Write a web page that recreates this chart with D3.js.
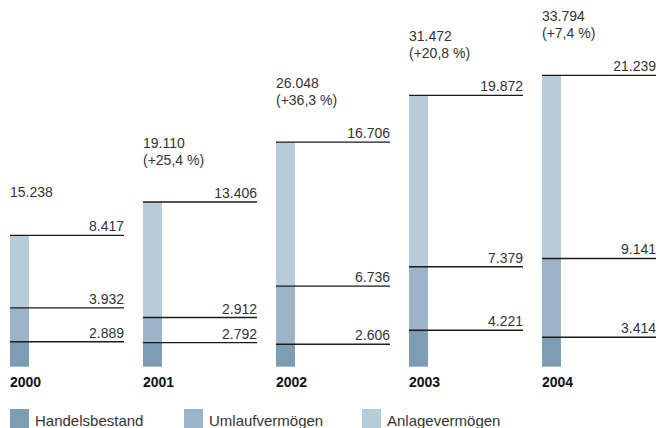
<!DOCTYPE html>
<html>
<head>
<meta charset="utf-8">
<script src="https://cdn.jsdelivr.net/npm/d3@7"></script>
<style>
  html, body { margin: 0; padding: 0; background: #fff; }
  svg { display: block; font-family: "Liberation Sans", Arial, sans-serif; }
</style>
</head>
<body>
<svg id="chart" width="659" height="428"></svg>
<script>
const years = ["2000", "2001", "2002", "2003", "2004"];
const handelsbestand = [2.889, 2.792, 2.606, 4.221, 3.414];
const umlaufvermoegen = [3.932, 2.912, 6.736, 7.379, 9.141];
const anlagevermoegen = [8.417, 13.406, 16.706, 19.872, 21.239];
const totals = [15.238, 19.110, 26.048, 31.472, 33.794];
const growthLabels = ["", "(+25,4 %)", "(+36,3 %)", "(+20,8 %)", "(+7,4 %)"];
const seriesNames = ["Handelsbestand", "Umlaufvermögen", "Anlagevermögen"];
const colors = ["#7d9db5", "#9cb3c8", "#b8cbd8"];

const svg = d3.select("#chart");
const baseY = 366.7;
const pxPerUnit = 8.62;
const y = d3.scaleLinear().domain([0, 34]).range([baseY, baseY - 34 * pxPerUnit]);
const x = d3.scalePoint().domain(years).range([10, 542]);
const barW = 19;
const lineLen = 114;

const fmt = v => d3.format(".3f")(v);
const seriesData = [handelsbestand, umlaufvermoegen, anlagevermoegen];

const stacked = years.map((yr, i) => {
  let cum = 0;
  return seriesData.map((s, k) => {
    const y0 = cum; cum += s[i];
    return { year: yr, k, y0, y1: cum, v: s[i] };
  });
});

const g = svg.append("g");

stacked.forEach(segs => {
  const gx = x(segs[0].year);
  segs.forEach(d => {
    g.append("rect")
      .attr("x", gx).attr("width", barW)
      .attr("y", y(d.y1)).attr("height", y(d.y0) - y(d.y1))
      .attr("fill", colors[d.k]);
  });
  segs.forEach(d => {
    g.append("line")
      .attr("x1", gx).attr("x2", gx + lineLen)
      .attr("y1", y(d.y1)).attr("y2", y(d.y1))
      .attr("stroke", "#1a1a1a").attr("stroke-width", 1.4);
    g.append("text")
      .attr("x", gx + lineLen).attr("y", y(d.y1) - 4)
      .attr("text-anchor", "end")
      .attr("font-size", 14).attr("fill", "#333")
      .text(fmt(d.v));
  });
});

years.forEach((yr, i) => {
  const gx = x(yr);
  const topY = y(totals[i]);
  const hasGrowth = growthLabels[i] !== "";
  const t = g.append("text")
    .attr("x", gx).attr("font-size", 14).attr("fill", "#333");
  if (hasGrowth) {
    t.append("tspan").attr("x", gx).attr("y", topY - 54).text(fmt(totals[i]));
    t.append("tspan").attr("x", gx).attr("y", topY - 37).text(growthLabels[i]);
  } else {
    t.append("tspan").attr("x", gx).attr("y", topY - 38).text(fmt(totals[i]));
  }
  g.append("text")
    .attr("x", gx).attr("y", 387)
    .attr("font-size", 14).attr("font-weight", "bold").attr("fill", "#111")
    .text(yr);
});

const legendX = [10, 184, 362];
seriesNames.forEach((name, k) => {
  svg.append("rect").attr("x", legendX[k]).attr("y", 409)
    .attr("width", 19).attr("height", 19).attr("fill", colors[k]);
  svg.append("text").attr("x", legendX[k] + 25).attr("y", 426)
    .attr("font-size", 15).attr("fill", "#333").text(name);
});
</script>
</body>
</html>
